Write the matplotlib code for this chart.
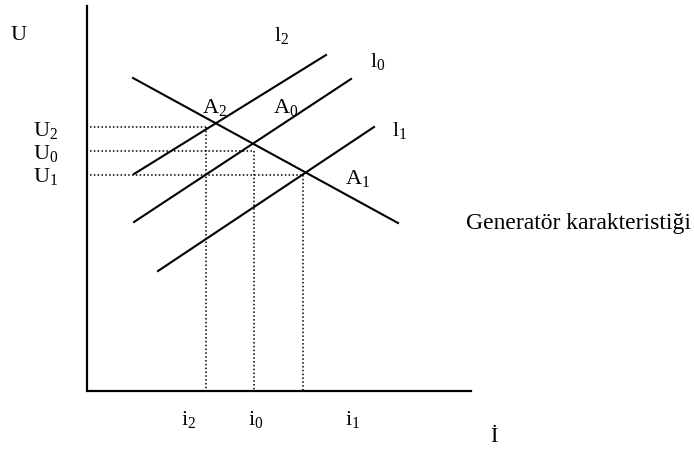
import matplotlib.pyplot as plt

# diagram given in pixel coordinates of the picture (y grows downward)
axis_x = [87, 87, 471]
axis_y = [7, 392, 392]

# straight characteristics: (x0, y0, x1, y1)
gen_line = [133, 79, 398, 224]
l2_line = [134, 175, 326, 56]
l0_line = [134, 223, 351, 80]
l1_line = [158, 272, 374, 128]

# dotted projections of the operating points: corner x, corner y
proj_x = [206, 254, 303]
proj_y = [128, 152, 176]
proj_left = 90

u_labels = ['$\\mathregular{U_2}$', '$\\mathregular{U_0}$', '$\\mathregular{U_1}$']
i_labels = ['$\\mathregular{i_2}$', '$\\mathregular{i_0}$', '$\\mathregular{i_1}$']
i_label_x = [189, 256, 353]

plt.rcParams['font.family'] = ['Liberation Serif', 'DejaVu Serif']
plt.rcParams['mathtext.fontset'] = 'custom'
plt.rcParams['mathtext.rm'] = 'Liberation Serif'
fs = 16

fig = plt.figure(figsize=(6.94, 4.52), dpi=100)
ax = fig.add_axes([0, 0, 1, 1])
ax.set_xlim(0, 694)
ax.set_ylim(452, 0)
ax.axis('off')

ax.plot(axis_x, axis_y, color='black', lw=1.6, solid_joinstyle='miter')
for ln in [gen_line, l2_line, l0_line, l1_line]:
    ax.plot([ln[0], ln[2]], [ln[1], ln[3]], color='black', lw=1.5)

for px, py in zip(proj_x, proj_y):
    ax.plot([proj_left, px], [py, py], color='black', lw=1.1, ls=(0, (1, 1.5)))
    ax.plot([px, px], [py, axis_y[1]], color='black', lw=1.1, ls=(0, (1, 1.5)))

# labels
ax.text(19, 35, 'U', fontsize=fs, ha='center', va='center')
ax.text(494, 438, 'İ', fontsize=fs, ha='center', va='center')
for lab, py in zip(u_labels, [131, 154, 177]):
    ax.text(46, py, lab, fontsize=fs, ha='center', va='center')
for lab, px in zip(i_labels, i_label_x):
    ax.text(px, 420, lab, fontsize=fs, ha='center', va='center')

ax.text(282, 36, '$\\mathregular{l_2}$', fontsize=fs, ha='center', va='center')
ax.text(378, 62, '$\\mathregular{l_0}$', fontsize=fs, ha='center', va='center')
ax.text(400, 131, '$\\mathregular{l_1}$', fontsize=fs, ha='center', va='center')
ax.text(215, 107, '$\\mathregular{A_2}$', fontsize=fs, ha='center', va='center')
ax.text(286, 107, '$\\mathregular{A_0}$', fontsize=fs, ha='center', va='center')
ax.text(358, 179, '$\\mathregular{A_1}$', fontsize=fs, ha='center', va='center')
ax.text(466, 224, 'Generatör karakteristiği', fontsize=17, ha='left', va='center')

fig.savefig('out.png', dpi=100)
